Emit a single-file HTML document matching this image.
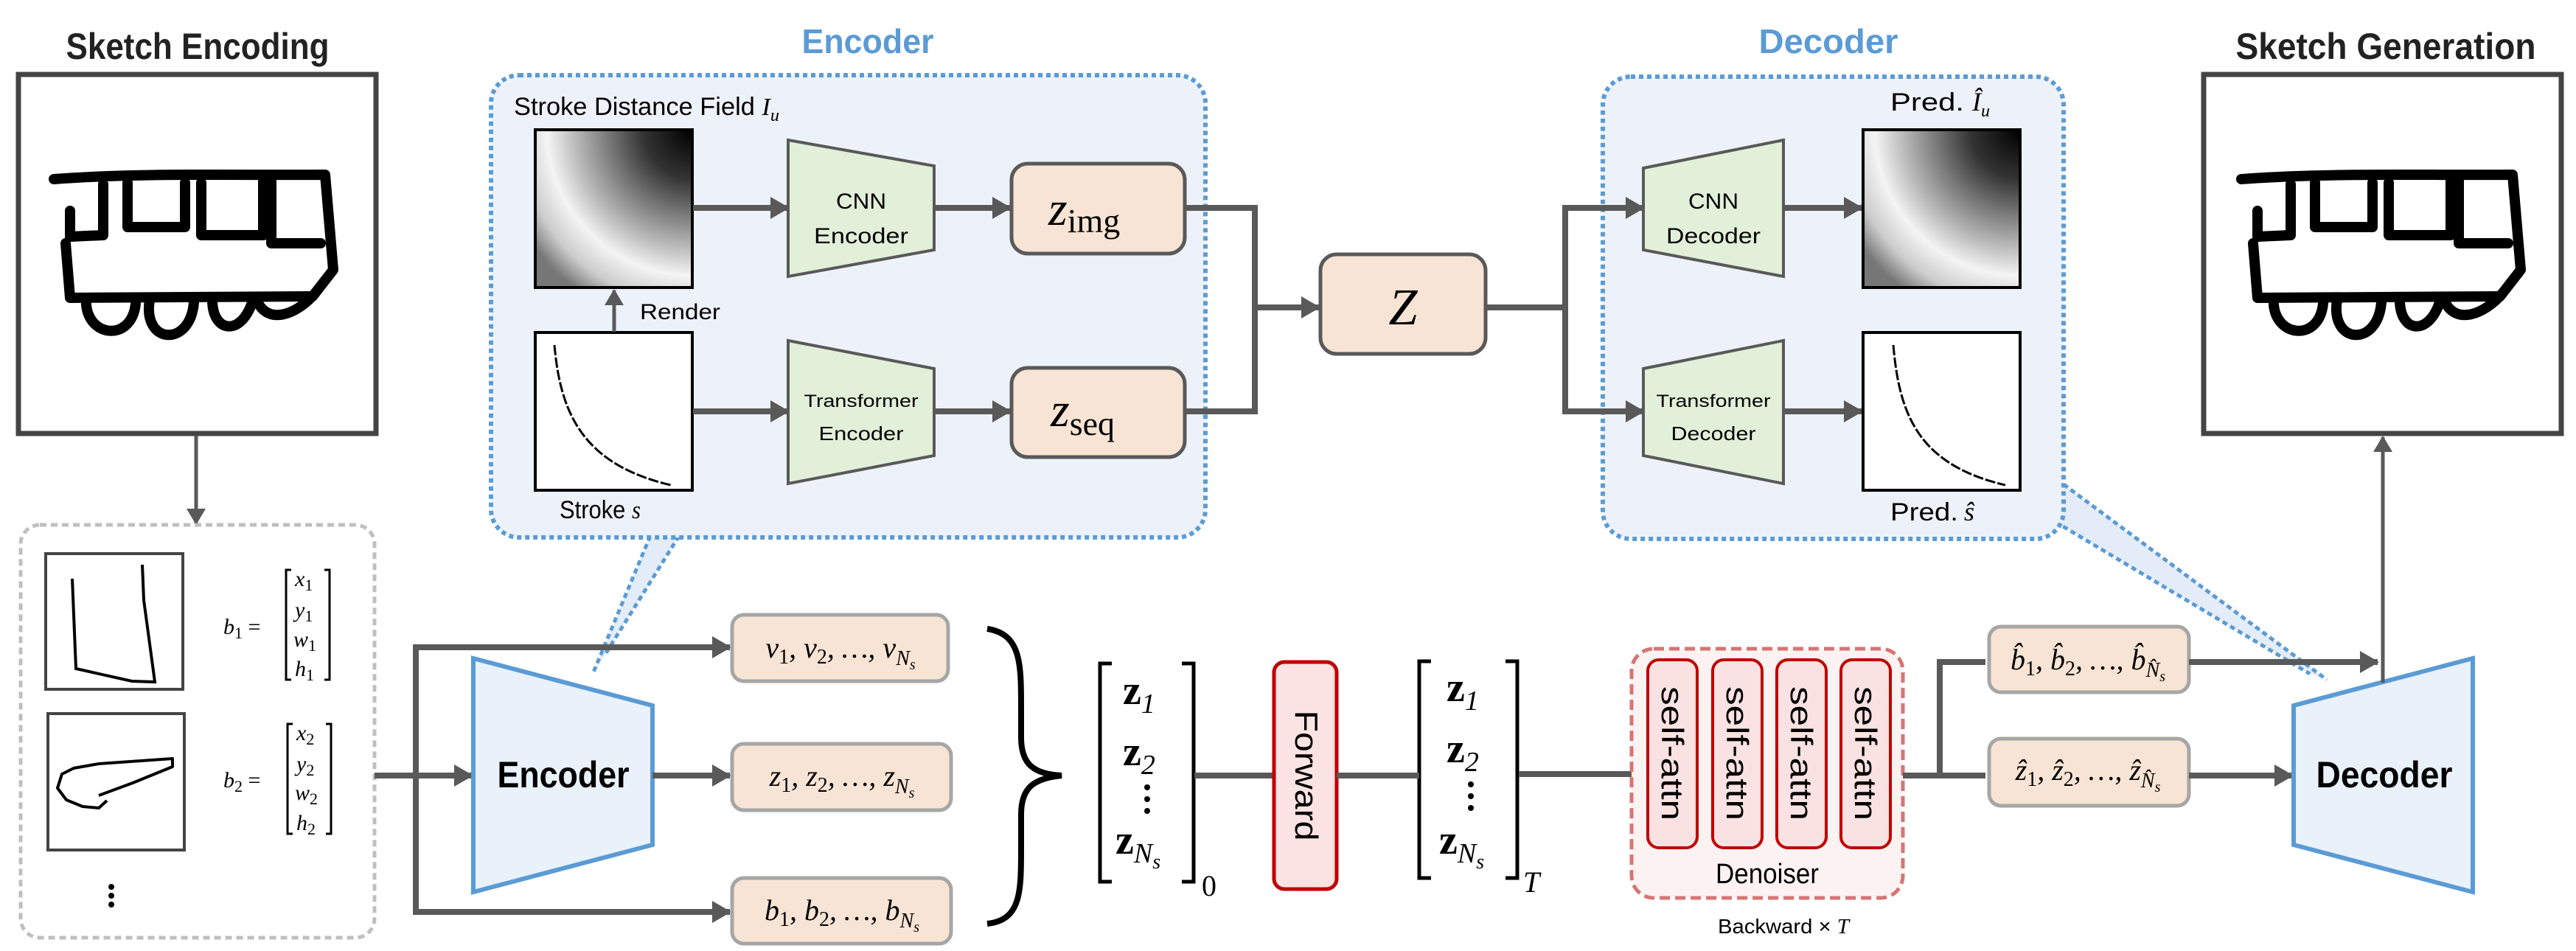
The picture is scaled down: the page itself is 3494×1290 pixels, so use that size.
<!DOCTYPE html>
<html><head><meta charset="utf-8"><style>
html,body{margin:0;padding:0;background:#fff}
svg{display:block}
.t{font-family:"Liberation Sans",sans-serif}
.m{font-family:"Liberation Serif",serif;font-style:italic}
</style></head><body>
<svg width="3494" height="1290" viewBox="0 0 3494 1290" xmlns="http://www.w3.org/2000/svg">
<defs>
<marker id="ah" markerUnits="userSpaceOnUse" markerWidth="26" markerHeight="30" refX="24" refY="15" orient="auto">
<path d="M0 0 L26 15 L0 30 Z" fill="#595959"/></marker>
<marker id="ahs" markerUnits="userSpaceOnUse" markerWidth="22" markerHeight="26" refX="20" refY="13" orient="auto">
<path d="M0 0 L22 13 L0 26 Z" fill="#595959"/></marker>
<radialGradient id="df" cx="1" cy="0" r="1.25" fx="1" fy="0">
<stop offset="0" stop-color="#000"/><stop offset="0.25" stop-color="#333"/>
<stop offset="0.6" stop-color="#bbb"/><stop offset="0.74" stop-color="#f4f4f4"/>
<stop offset="0.88" stop-color="#ccc"/><stop offset="1" stop-color="#777"/></radialGradient>
<g id="train" fill="none" stroke="#000" stroke-width="14" stroke-linecap="round" stroke-linejoin="round">
<path d="M0 11 C120 2 250 6 362 5 L368 5 L379 134 L351 170"/>
<path d="M22 54 L22 89 L67 87 L67 18"/>
<path d="M100 16 L100 76 L178 76 L178 16"/>
<path d="M200 16 L200 87 L284 87 L284 12"/>
<path d="M295 10 L295 98 L362 98"/>
<path d="M16 98 L22 172 L351 170"/>
<path d="M44 172 C40 225 105 235 111 180"/>
<path d="M130 175 C120 235 185 240 190 178"/>
<path d="M215 175 C215 220 255 225 270 175"/>
<path d="M275 175 C290 210 330 195 355 165"/>
</g>
</defs>

<!-- titles -->
<text x="268" y="80" class="t" font-size="50" font-weight="bold" text-anchor="middle" textLength="357" lengthAdjust="spacingAndGlyphs" fill="#222">Sketch Encoding</text>
<text x="3236" y="80" class="t" font-size="50" font-weight="bold" text-anchor="middle" textLength="407" lengthAdjust="spacingAndGlyphs" fill="#222">Sketch Generation</text>
<text x="1177" y="72" class="t" font-size="46" font-weight="bold" text-anchor="middle" textLength="179" lengthAdjust="spacingAndGlyphs" fill="#5b9bd5">Encoder</text>
<text x="2480" y="72" class="t" font-size="46" font-weight="bold" text-anchor="middle" textLength="189" lengthAdjust="spacingAndGlyphs" fill="#5b9bd5">Decoder</text>

<!-- sketch boxes -->
<rect x="25" y="101" width="485" height="487" fill="#fff" stroke="#444" stroke-width="7"/>
<use href="#train" x="73" y="232"/>
<rect x="2989" y="101" width="485" height="487" fill="#fff" stroke="#444" stroke-width="7"/>
<use href="#train" x="3040" y="232"/>

<!-- wedges -->
<polygon points="882,727 921,727 820,889 804,914" fill="#e3ecf7"/>
<line x1="882" y1="727" x2="804" y2="914" stroke="#5b9bd5" stroke-width="5" stroke-dasharray="7 5"/>
<line x1="921" y1="727" x2="820" y2="889" stroke="#5b9bd5" stroke-width="5" stroke-dasharray="7 5"/>
<polygon points="2799,657 2788,708 3133,914 3156,922" fill="#e3ecf7"/>
<line x1="2799" y1="657" x2="3156" y2="922" stroke="#5b9bd5" stroke-width="5" stroke-dasharray="7 5"/>
<line x1="2788" y1="708" x2="3133" y2="914" stroke="#5b9bd5" stroke-width="5" stroke-dasharray="7 5"/>

<!-- encoder dashed box -->
<rect x="666" y="102" width="969" height="627" rx="38" fill="#edf2fa" stroke="#5b9bd5" stroke-width="6" stroke-dasharray="6 5"/>
<text x="697" y="156" class="t" font-size="34" textLength="360" lengthAdjust="spacingAndGlyphs">Stroke Distance Field <tspan class="m">I</tspan><tspan class="m" font-size="24" dy="8">u</tspan></text>
<rect x="726" y="176" width="213" height="214" fill="url(#df)" stroke="#000" stroke-width="4"/>
<rect x="726" y="451" width="213" height="214" fill="#fff" stroke="#000" stroke-width="4"/>
<path d="M752 468 C760 560 790 630 910 658" fill="none" stroke="#000" stroke-width="3" stroke-dasharray="14 3"/>
<line x1="833" y1="450" x2="833" y2="394" stroke="#595959" stroke-width="5" marker-end="url(#ahs)"/>
<text x="868" y="433" class="t" font-size="30" textLength="109" lengthAdjust="spacingAndGlyphs">Render</text>
<text x="759" y="703" class="t" font-size="34" textLength="110" lengthAdjust="spacingAndGlyphs">Stroke <tspan class="m">s</tspan></text>
<polygon points="1069,190 1267,225 1267,339 1069,375" fill="#e2efd9" stroke="#595959" stroke-width="4"/>
<text x="1168" y="283" class="t" font-size="30" text-anchor="middle" textLength="68" lengthAdjust="spacingAndGlyphs">CNN</text>
<text x="1168" y="330" class="t" font-size="30" text-anchor="middle" textLength="128" lengthAdjust="spacingAndGlyphs">Encoder</text>
<polygon points="1069,462 1267,500 1267,618 1069,656" fill="#e2efd9" stroke="#595959" stroke-width="4"/>
<text x="1168" y="552" class="t" font-size="24" text-anchor="middle" textLength="155" lengthAdjust="spacingAndGlyphs">Transformer</text>
<text x="1168" y="597" class="t" font-size="26" text-anchor="middle" textLength="115" lengthAdjust="spacingAndGlyphs">Encoder</text>
<line x1="940" y1="282" x2="1069" y2="282" stroke="#595959" stroke-width="8" marker-end="url(#ah)"/>
<line x1="940" y1="558" x2="1069" y2="558" stroke="#595959" stroke-width="8" marker-end="url(#ah)"/>
<line x1="1267" y1="282" x2="1370" y2="282" stroke="#595959" stroke-width="8" marker-end="url(#ah)"/>
<line x1="1267" y1="558" x2="1370" y2="558" stroke="#595959" stroke-width="8" marker-end="url(#ah)"/>
<rect x="1372" y="222" width="235" height="122" rx="22" fill="#f8e4d4" stroke="#595959" stroke-width="5"/>
<text x="1422" y="305" class="m" font-size="66">z<tspan font-style="normal" font-size="46" dy="10">img</tspan></text>
<rect x="1372" y="499" width="235" height="121" rx="22" fill="#f8e4d4" stroke="#595959" stroke-width="5"/>
<text x="1425" y="578" class="m" font-size="66">z<tspan font-style="normal" font-size="46" dy="12">seq</tspan></text>
<polyline points="1607,282 1702,282 1702,558 1607,558" fill="none" stroke="#595959" stroke-width="8"/>
<line x1="1702" y1="417" x2="1789" y2="417" stroke="#595959" stroke-width="8" marker-end="url(#ah)"/>
<rect x="1791" y="345" width="224" height="135" rx="22" fill="#f8e4d4" stroke="#595959" stroke-width="5"/>
<text x="1903" y="440" class="m" font-size="70" text-anchor="middle">Z</text>

<!-- decoder dashed box -->
<rect x="2174" y="104" width="625" height="627" rx="38" fill="#edf2fa" stroke="#5b9bd5" stroke-width="6" stroke-dasharray="6 5"/>
<polyline points="2015,417 2123,417" fill="none" stroke="#595959" stroke-width="8"/>
<line x1="2123" y1="282" x2="2123" y2="558" stroke="#595959" stroke-width="8"/>
<line x1="2119" y1="282" x2="2229" y2="282" stroke="#595959" stroke-width="8" marker-end="url(#ah)"/>
<line x1="2119" y1="558" x2="2229" y2="558" stroke="#595959" stroke-width="8" marker-end="url(#ah)"/>
<polygon points="2229,228 2419,190 2419,375 2229,339" fill="#e2efd9" stroke="#595959" stroke-width="4"/>
<text x="2324" y="283" class="t" font-size="30" text-anchor="middle" textLength="68" lengthAdjust="spacingAndGlyphs">CNN</text>
<text x="2324" y="330" class="t" font-size="30" text-anchor="middle" textLength="128" lengthAdjust="spacingAndGlyphs">Decoder</text>
<polygon points="2229,500 2419,462 2419,656 2229,618" fill="#e2efd9" stroke="#595959" stroke-width="4"/>
<text x="2324" y="552" class="t" font-size="24" text-anchor="middle" textLength="155" lengthAdjust="spacingAndGlyphs">Transformer</text>
<text x="2324" y="597" class="t" font-size="26" text-anchor="middle" textLength="115" lengthAdjust="spacingAndGlyphs">Decoder</text>
<line x1="2419" y1="282" x2="2525" y2="282" stroke="#595959" stroke-width="8" marker-end="url(#ah)"/>
<line x1="2419" y1="558" x2="2525" y2="558" stroke="#595959" stroke-width="8" marker-end="url(#ah)"/>
<rect x="2527" y="176" width="213" height="214" fill="url(#df)" stroke="#000" stroke-width="4"/>
<rect x="2527" y="451" width="213" height="214" fill="#fff" stroke="#000" stroke-width="4"/>
<path d="M2568 468 C2576 560 2600 630 2720 658" fill="none" stroke="#000" stroke-width="3" stroke-dasharray="14 3"/>
<text x="2564" y="150" class="t" font-size="34" textLength="100" lengthAdjust="spacingAndGlyphs">Pred.</text>
<text x="2675" y="150" class="m" font-size="36">Î<tspan font-size="24" dy="8">u</tspan></text>
<text x="2564" y="706" class="t" font-size="34" textLength="92" lengthAdjust="spacingAndGlyphs">Pred.</text>
<text x="2664" y="706" class="m" font-size="36">ŝ</text>

<!-- gray input box -->
<line x1="266" y1="591" x2="266" y2="710" stroke="#595959" stroke-width="5" marker-end="url(#ahs)"/>
<rect x="28" y="712" width="480" height="560" rx="26" fill="#fff" stroke="#bfbfbf" stroke-width="5" stroke-dasharray="9 6"/>
<rect x="62" y="751" width="186" height="184" fill="#fff" stroke="#444" stroke-width="4"/>
<path d="M98 785 L103 907 L179 924 L210 925 L195 814 L193 766" fill="none" stroke="#000" stroke-width="4"/>
<rect x="65" y="968" width="185" height="185" fill="#fff" stroke="#444" stroke-width="4"/>
<path d="M134 1036 L234 1029 L234 1040 L180 1062 L134 1079 M134 1036 L100 1042 L84 1050 L78 1069 L90 1085 L112 1094 L134 1096 L145 1086" fill="none" stroke="#000" stroke-width="4" stroke-linejoin="round"/>
<g class="m" font-size="30">
<text x="303" y="860">b<tspan font-style="normal" font-size="22" dy="6">1</tspan><tspan font-style="normal" dy="-6"> =</tspan></text>
<text x="303" y="1068">b<tspan font-style="normal" font-size="22" dy="6">2</tspan><tspan font-style="normal" dy="-6"> =</tspan></text>
<text x="400" y="795">x<tspan font-style="normal" font-size="22" dy="6">1</tspan></text>
<text x="400" y="837">y<tspan font-style="normal" font-size="22" dy="6">1</tspan></text>
<text x="398" y="877">w<tspan font-style="normal" font-size="22" dy="6">1</tspan></text>
<text x="400" y="917">h<tspan font-style="normal" font-size="22" dy="6">1</tspan></text>
<text x="402" y="1004">x<tspan font-style="normal" font-size="22" dy="6">2</tspan></text>
<text x="402" y="1046">y<tspan font-style="normal" font-size="22" dy="6">2</tspan></text>
<text x="400" y="1085">w<tspan font-style="normal" font-size="22" dy="6">2</tspan></text>
<text x="402" y="1126">h<tspan font-style="normal" font-size="22" dy="6">2</tspan></text>
</g>
<g fill="none" stroke="#000" stroke-width="3">
<path d="M395 773 L388 773 L388 922 L395 922"/><path d="M440 773 L447 773 L447 922 L440 922"/>
<path d="M397 982 L390 982 L390 1131 L397 1131"/><path d="M442 982 L449 982 L449 1131 L442 1131"/>
</g>
<g fill="#000"><circle cx="151" cy="1203" r="4"/><circle cx="151" cy="1215" r="4"/><circle cx="151" cy="1227" r="4"/></g>

<!-- encoder main -->
<line x1="508" y1="1052" x2="640" y2="1052" stroke="#595959" stroke-width="8" marker-end="url(#ah)"/>
<polyline points="986,878 564,878 564,1237 986,1237" fill="none" stroke="#595959" stroke-width="8"/>
<line x1="960" y1="878" x2="990" y2="878" stroke="#595959" stroke-width="8" marker-end="url(#ah)"/>
<line x1="960" y1="1237" x2="990" y2="1237" stroke="#595959" stroke-width="8" marker-end="url(#ah)"/>
<polygon points="642,893 885,957 885,1146 642,1210" fill="#e9f1fa" stroke="#5b9bd5" stroke-width="6"/>
<text x="764" y="1068" class="t" font-size="50" font-weight="bold" text-anchor="middle" textLength="179" lengthAdjust="spacingAndGlyphs">Encoder</text>
<line x1="885" y1="1052" x2="990" y2="1052" stroke="#595959" stroke-width="8" marker-end="url(#ah)"/>
<g fill="#f8e4d4" stroke="#a6a6a6" stroke-width="5">
<rect x="993" y="834" width="293" height="90" rx="16"/>
<rect x="993" y="1009" width="297" height="90" rx="16"/>
<rect x="993" y="1191" width="297" height="89" rx="16"/>
</g>
<g class="m" font-size="40" text-anchor="middle">
<text x="1140" y="892">v<tspan font-style="normal" font-size="28" dy="8">1</tspan><tspan dy="-8">, v</tspan><tspan font-style="normal" font-size="28" dy="8">2</tspan><tspan dy="-8">, …, v</tspan><tspan font-size="28" dy="10">N</tspan><tspan font-size="20" dy="6">s</tspan></text>
<text x="1142" y="1066">z<tspan font-style="normal" font-size="28" dy="8">1</tspan><tspan dy="-8">, z</tspan><tspan font-style="normal" font-size="28" dy="8">2</tspan><tspan dy="-8">, …, z</tspan><tspan font-size="28" dy="10">N</tspan><tspan font-size="20" dy="6">s</tspan></text>
<text x="1142" y="1248">b<tspan font-style="normal" font-size="28" dy="8">1</tspan><tspan dy="-8">, b</tspan><tspan font-style="normal" font-size="28" dy="8">2</tspan><tspan dy="-8">, …, b</tspan><tspan font-size="28" dy="10">N</tspan><tspan font-size="20" dy="6">s</tspan></text>
</g>
<path d="M1339 853 C1385 860 1385 900 1385 960 L1385 1000 C1385 1035 1400 1050 1440 1052 C1400 1056 1385 1070 1385 1105 L1385 1150 C1385 1210 1385 1248 1339 1253" fill="none" stroke="#000" stroke-width="8"/>

<!-- matrix 0 -->
<g fill="none" stroke="#000" stroke-width="5">
<path d="M1508 900 L1492 900 L1492 1196 L1508 1196"/><path d="M1603 900 L1619 900 L1619 1196 L1603 1196"/>
<path d="M1941 897 L1925 897 L1925 1191 L1941 1191"/><path d="M2042 897 L2058 897 L2058 1191 L2042 1191"/>
</g>
<g font-family="Liberation Serif,serif" font-weight="bold" font-size="56">
<text x="1523" y="955">z<tspan font-weight="normal" font-style="italic" font-size="38" dy="12">1</tspan></text>
<text x="1523" y="1038">z<tspan font-weight="normal" font-style="italic" font-size="38" dy="12">2</tspan></text>
<text x="1513" y="1158">z<tspan font-weight="normal" font-style="italic" font-size="38" dy="12">N</tspan><tspan font-weight="normal" font-style="italic" font-size="28" dy="8">s</tspan></text>
<text x="1962" y="951">z<tspan font-weight="normal" font-style="italic" font-size="38" dy="12">1</tspan></text>
<text x="1962" y="1034">z<tspan font-weight="normal" font-style="italic" font-size="38" dy="12">2</tspan></text>
<text x="1952" y="1158">z<tspan font-weight="normal" font-style="italic" font-size="38" dy="12">N</tspan><tspan font-weight="normal" font-style="italic" font-size="28" dy="8">s</tspan></text>
</g>
<g fill="#000"><circle cx="1556" cy="1068" r="4"/><circle cx="1556" cy="1084" r="4"/><circle cx="1556" cy="1100" r="4"/>
<circle cx="1995" cy="1064" r="4"/><circle cx="1995" cy="1080" r="4"/><circle cx="1995" cy="1096" r="4"/></g>
<text x="1630" y="1215" font-family="Liberation Serif,serif" font-size="40">0</text>
<text x="2066" y="1210" class="m" font-size="40">T</text>
<line x1="1620" y1="1052" x2="1728" y2="1052" stroke="#595959" stroke-width="8"/>
<rect x="1728" y="898" width="85" height="308" rx="14" fill="#fbe3e3" stroke="#c00000" stroke-width="5"/>
<text transform="translate(1757,1052) rotate(90)" class="t" font-size="44" text-anchor="middle" textLength="177" lengthAdjust="spacingAndGlyphs">Forward</text>
<line x1="1813" y1="1052" x2="1925" y2="1052" stroke="#595959" stroke-width="8"/>
<line x1="2060" y1="1050" x2="2213" y2="1050" stroke="#595959" stroke-width="8"/>

<!-- denoiser -->
<rect x="2213" y="880" width="368" height="338" rx="30" fill="#fdf2f2" stroke="#d87474" stroke-width="5" stroke-dasharray="14 7"/>
<g fill="#fbe2e2" stroke="#c00000" stroke-width="4">
<rect x="2235" y="895" width="67" height="255" rx="15"/><rect x="2323" y="895" width="67" height="255" rx="15"/>
<rect x="2410" y="895" width="67" height="255" rx="15"/><rect x="2497" y="895" width="67" height="255" rx="15"/>
</g>
<g class="t" font-size="42" text-anchor="middle">
<text transform="translate(2254,1022) rotate(90)" textLength="182" lengthAdjust="spacingAndGlyphs">self-attn</text>
<text transform="translate(2342,1022) rotate(90)" textLength="182" lengthAdjust="spacingAndGlyphs">self-attn</text>
<text transform="translate(2429,1022) rotate(90)" textLength="182" lengthAdjust="spacingAndGlyphs">self-attn</text>
<text transform="translate(2516,1022) rotate(90)" textLength="182" lengthAdjust="spacingAndGlyphs">self-attn</text>
</g>
<text x="2397" y="1198" class="t" font-size="38" text-anchor="middle" textLength="140" lengthAdjust="spacingAndGlyphs">Denoiser</text>
<text x="2419" y="1266" class="t" font-size="28" text-anchor="middle" textLength="178" lengthAdjust="spacingAndGlyphs">Backward × <tspan class="m">T</tspan></text>

<!-- decoder side -->
<line x1="2581" y1="1052" x2="2693" y2="1052" stroke="#595959" stroke-width="8"/>
<polyline points="2631,1052 2631,898 2693,898" fill="none" stroke="#595959" stroke-width="8"/>
<g fill="#f8e4d4" stroke="#a6a6a6" stroke-width="5">
<rect x="2698" y="850" width="271" height="89" rx="16"/>
<rect x="2698" y="1002" width="271" height="91" rx="16"/>
</g>
<g class="m" font-size="40" text-anchor="middle">
<text x="2832" y="908">b̂<tspan font-style="normal" font-size="28" dy="8">1</tspan><tspan dy="-8">, b̂</tspan><tspan font-style="normal" font-size="28" dy="8">2</tspan><tspan dy="-8">, …, b̂</tspan><tspan font-size="28" dy="10">N̂</tspan><tspan font-size="20" dy="6">s</tspan></text>
<text x="2832" y="1058">ẑ<tspan font-style="normal" font-size="28" dy="8">1</tspan><tspan dy="-8">, ẑ</tspan><tspan font-style="normal" font-size="28" dy="8">2</tspan><tspan dy="-8">, …, ẑ</tspan><tspan font-size="28" dy="10">N̂</tspan><tspan font-size="20" dy="6">s</tspan></text>
</g>
<line x1="2969" y1="898" x2="3225" y2="898" stroke="#595959" stroke-width="8" marker-end="url(#ah)"/>
<line x1="2969" y1="1052" x2="3109" y2="1052" stroke="#595959" stroke-width="8" marker-end="url(#ah)"/>
<line x1="3232" y1="928" x2="3232" y2="593" stroke="#595959" stroke-width="5" marker-end="url(#ahs)"/>
<polygon points="3111,957 3354,893 3354,1210 3111,1146" fill="#e9f1fa" stroke="#5b9bd5" stroke-width="6"/>
<line x1="3232" y1="895" x2="3232" y2="926" stroke="#595959" stroke-width="5"/>
<text x="3234" y="1068" class="t" font-size="50" font-weight="bold" text-anchor="middle" textLength="185" lengthAdjust="spacingAndGlyphs">Decoder</text>
</svg>
</body></html>
